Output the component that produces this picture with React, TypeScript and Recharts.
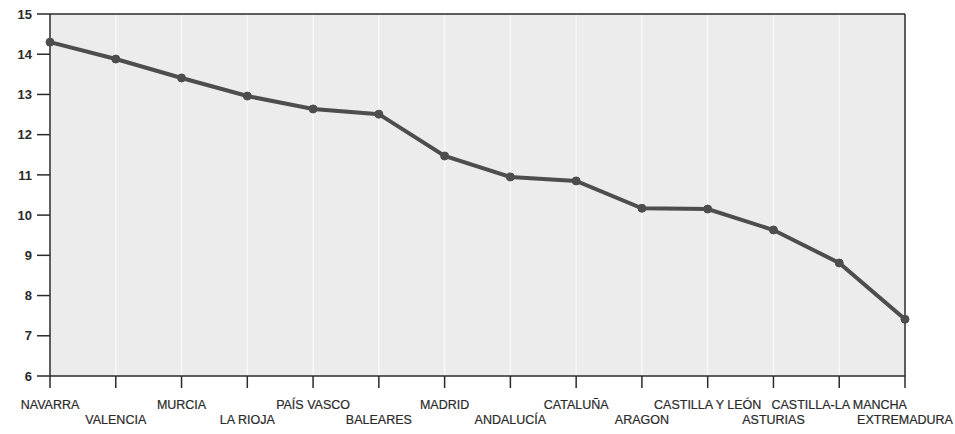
import React from "react";
import {
  LineChart,
  Line,
  XAxis,
  YAxis,
  CartesianGrid,
  ReferenceLine,
} from "recharts";

const regions = [
  "NAVARRA",
  "VALENCIA",
  "MURCIA",
  "LA RIOJA",
  "PAÍS VASCO",
  "BALEARES",
  "MADRID",
  "ANDALUCÍA",
  "CATALUÑA",
  "ARAGON",
  "CASTILLA Y LEÓN",
  "ASTURIAS",
  "CASTILLA-LA MANCHA",
  "EXTREMADURA",
];

const values = [
  14.3, 13.88, 13.41, 12.96, 12.64, 12.51, 11.47, 10.95, 10.85, 10.17, 10.15,
  9.63, 8.81, 7.41,
];

const yTicks = [6, 7, 8, 9, 10, 11, 12, 13, 14, 15];

const data = regions.map((region, i) => ({ region, value: values[i] }));

const FONT = "'Liberation Sans', Arial, sans-serif";
const INK = "#2a2a2a";

// labels alternate between two rows so they don't collide
function StaggeredTick(props: any) {
  const { x, y, payload, index } = props;
  const dy = index % 2 === 0 ? 19 : 34;
  return (
    <text
      x={x}
      y={y + dy}
      textAnchor="middle"
      fontSize={12.5}
      fontFamily={FONT}
      fill={INK}
      stroke={INK}
      strokeWidth={0.2}
    >
      {payload.value}
    </text>
  );
}

export default function App() {
  return (
    <div style={{ position: "absolute", left: 0, top: 0, background: "#fff" }}>
      <LineChart
        width={955}
        height={434}
        data={data}
        margin={{ top: 14, right: 50, bottom: 0, left: 0 }}
      >
        <CartesianGrid
          horizontal={false}
          vertical={true}
          stroke="#f8f8f8"
          strokeWidth={1.5}
          fill="#ececec"
        />
        <XAxis
          dataKey="region"
          interval={0}
          height={58}
          tickSize={12}
          tickLine={{ stroke: INK, strokeWidth: 1.5 }}
          axisLine={{ stroke: INK, strokeWidth: 1.5 }}
          tick={<StaggeredTick />}
        />
        <YAxis
          domain={[6, 15]}
          ticks={yTicks}
          width={50}
          tickSize={13}
          tickMargin={5}
          tickLine={{ stroke: INK, strokeWidth: 1.5 }}
          axisLine={{ stroke: INK, strokeWidth: 1.5 }}
          tick={{ fill: INK, fontSize: 13, fontWeight: 700, fontFamily: FONT }}
        />
        <ReferenceLine y={15} stroke={INK} strokeWidth={1.5} />
        <ReferenceLine x="EXTREMADURA" stroke={INK} strokeWidth={1.5} />
        <Line
          type="linear"
          dataKey="value"
          stroke="#4d4d4d"
          strokeWidth={4}
          dot={{ r: 4, fill: "#4d4d4d", stroke: "#4d4d4d", strokeWidth: 1 }}
          isAnimationActive={false}
        />
      </LineChart>
    </div>
  );
}
